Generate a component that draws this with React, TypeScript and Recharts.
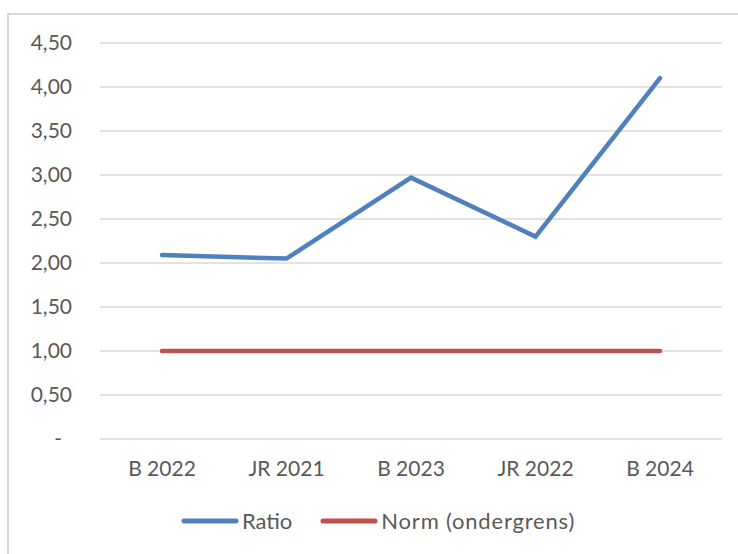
import React from 'react';
import { LineChart, Line, XAxis, YAxis, CartesianGrid, Legend } from 'recharts';

const categories = ['B 2022', 'JR 2021', 'B 2023', 'JR 2022', 'B 2024'];
const ratioValues = [2.09, 2.05, 2.97, 2.3, 4.1];
const normValues = [1, 1, 1, 1, 1];
const yTicks = [0, 0.5, 1, 1.5, 2, 2.5, 3, 3.5, 4, 4.5];

const data = categories.map((name, i) => ({
  name,
  ratio: ratioValues[i],
  norm: normValues[i],
}));

const FONT = 'Lato, "Open Sans", sans-serif';
const TEXT = '#595959';
const BLUE = '#4f81bd';
const RED = '#c0504d';

const fmt = (v: number) => (v === 0 ? '-' : v.toFixed(2).replace('.', ','));

const YTick = (props: any) => {
  const { x, y, payload } = props;
  const isZero = payload.value === 0;
  return (
    <text
      x={isZero ? x - 10 : x}
      y={y}
      dy="0.35em"
      textAnchor="end"
      fill={TEXT}
      fontSize={21}
      fontFamily={FONT}
    >
      {fmt(payload.value)}
    </text>
  );
};

const legendItems = [
  { label: 'Ratio', color: BLUE },
  { label: 'Norm (ondergrens)', color: RED },
];

const LegendContent = () => (
  <div style={{ display: 'flex', justifyContent: 'center', alignItems: 'center', gap: 28, paddingLeft: 18, fontFamily: FONT, fontSize: 22, color: TEXT }}>
    {legendItems.map((it) => (
      <div key={it.label} style={{ display: 'flex', alignItems: 'center' }}>
        <svg width={58} height={10} style={{ marginRight: 3 }}>
          <line x1={3} y1={5} x2={55} y2={5} stroke={it.color} strokeWidth={5} strokeLinecap="round" />
        </svg>
        <span style={{ letterSpacing: it.label.length > 10 ? 0.8 : 0 }}>{it.label}</span>
      </div>
    ))}
  </div>
);

export default function App() {
  return (
    <div style={{ position: 'absolute', left: 0, top: 0, width: 738, height: 554, overflow: 'hidden', background: '#fff' }}>
      <div
        style={{
          position: 'absolute',
          left: 7,
          top: 13,
          width: 740,
          height: 560,
          borderLeft: '2px solid #d9d9d9',
          borderTop: '2px solid #d9d9d9',
        }}
      />
      <div style={{ position: 'absolute', left: 0, top: 0 }}>
        <LineChart width={738} height={554} data={data} margin={{ top: 43, right: 16, left: 0, bottom: 75 }}>
          <CartesianGrid vertical={false} stroke="#d9d9d9" strokeWidth={1.5} />
          <XAxis
            dataKey="name"
            height={40}
            padding={{ left: 62, right: 62 }}
            axisLine={false}
            tickLine={false}
            tickSize={0}
            tickMargin={22}
            tick={{ fill: TEXT, fontSize: 21, fontFamily: FONT }}
          />
          <YAxis
            width={100}
            domain={[0, 4.5]}
            ticks={yTicks}
            axisLine={false}
            tickLine={false}
            tickSize={0}
            tickMargin={28}
            tick={<YTick />}
          />
          <Legend verticalAlign="middle" align="center" wrapperStyle={{ top: 507, left: 0, width: 738 }} content={<LegendContent />} />
          <Line dataKey="ratio" name="Ratio" stroke={BLUE} strokeWidth={4.5} strokeLinecap="round" dot={false} activeDot={false} isAnimationActive={false} />
          <Line dataKey="norm" name="Norm (ondergrens)" stroke={RED} strokeWidth={4.5} strokeLinecap="round" dot={false} activeDot={false} isAnimationActive={false} />
        </LineChart>
      </div>
    </div>
  );
}
